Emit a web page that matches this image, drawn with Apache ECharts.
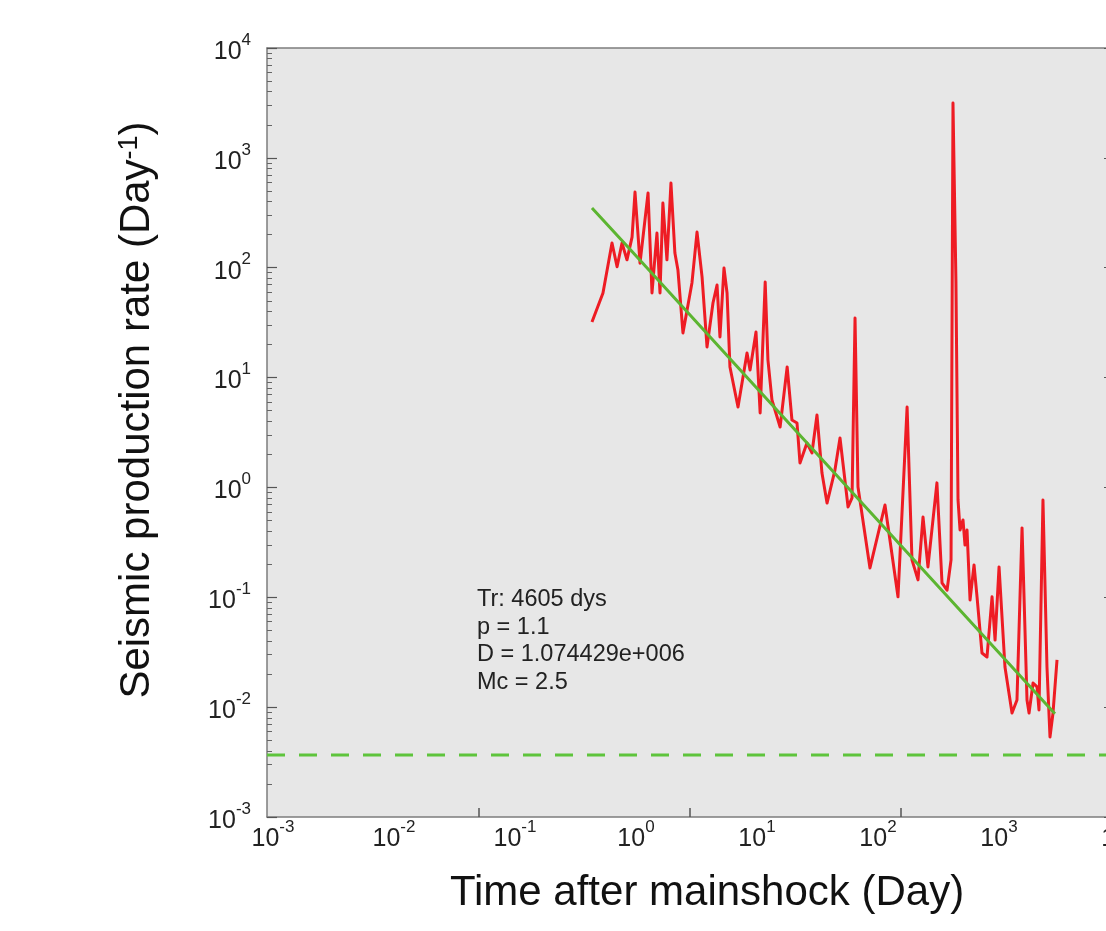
<!DOCTYPE html>
<html>
<head>
<meta charset="utf-8">
<script src="https://cdn.jsdelivr.net/npm/echarts@6/dist/echarts.min.js"></script>
<style>
html,body{margin:0;padding:0;background:#ffffff;}
#chart{width:1106px;height:931px;}
</style>
</head>
<body>
<div id="chart"></div>
<script>
// ---- data ----
var tRed = [0.485,0.598,0.710,0.782,0.859,0.944,1.04,1.10,1.21,1.41,1.52,1.67,1.77,1.87,2.02,2.18,2.35,2.49,2.74,3.25,
  3.58,3.94,4.33,4.85,5.24,5.54,5.98,6.34,6.70,7.81,9.27,9.82,11.0,11.9,13.1,13.8,14.9,17.4,19.9,21.8,
  24.0,25.4,29.0,31.9,35.1,38.6,42.5,49.4,54.4,63.4,68.4,72.4,76.6,96.2,128,164,195,214,240,264,
  290,344,379,417,450,467,494,514,534,565,587,610,646,697,738,811,892,982,1040,1122,
  1256,1436,1578,1738,1910,1986,2143,2312,2399,2588,2793,2958,3133,3381];
var rRed = [32.1,58.9,168,102,168,118,190,489,110,479,58.9,207,58.9,388,118,590,136,95.3,25.5,72.6,
  211,82.4,19.0,47.7,69.6,23.4,99.4,58.9,12.5,5.40,16.7,11.7,26.0,4.76,74.1,14.5,6.25,3.55,12.5,4.11,
  3.86,1.67,2.54,2.06,4.56,1.35,0.721,1.44,2.82,0.664,0.802,34.8,1.01,0.185,0.692,0.101,5.40,0.219,0.144,0.538,
  0.189,1.10,0.135,0.116,0.219,3160,74.1,0.769,0.410,0.506,0.299,0.410,0.0944,0.197,0.101,0.0311,0.0286,0.101,0.0408,0.189,
  0.0232,0.00885,0.0116,0.428,0.0116,0.00885,0.0166,0.0153,0.00942,0.769,0.0232,0.00535,0.00885,0.0269];
var tFit = [0.485,1,10,100,1000,3250];
var rFit = [350,147,9.16,0.573,0.0358,0.0087];
var tBg = [0.001,10000];
var rBg = [0.00367,0.00367];
var xLabelValues = [0.001,0.01,0.1,1,10,100,1000,10000];
var yLabelValues = [0.001,0.01,0.1,1,10,100,1000,10000];
var xTickValues = [0.0565,3.13,174];
var infoLines = ['Tr: 4605 dys','p = 1.1','D = 1.074429e+006','Mc = 2.5'];

var yMinorTicks = [];
for (var d = -3; d < 4; d++) {
  for (var m = 2; m <= 9; m++) yMinorTicks.push(m * Math.pow(10, d));
}

function pair(a, b) { return a.map(function (v, i) { return [v, b[i]]; }); }
function powLabel(v) {
  var e = Math.round(Math.log10(v));
  return '{b|10}{e|' + e + '}';
}
var FF = 'Liberation Sans, Arial, sans-serif';
var labelRich = {
  b: {fontSize: 25, lineHeight: 33, verticalAlign: 'bottom', color: '#222', fontFamily: FF},
  e: {fontSize: 17, lineHeight: 17, verticalAlign: 'top', color: '#222', fontFamily: FF}
};
var axisCol = '#7d7d7d';

var chart = echarts.init(document.getElementById('chart'), null, {renderer: 'canvas'});
chart.setOption({
  backgroundColor: '#ffffff',
  animation: false,
  grid: {left: 267, top: 48, right: -8, bottom: 114, containLabel: false, outerBoundsMode: 'none',
    show: true, backgroundColor: '#e7e7e7', borderWidth: 0},
  xAxis: [{
    type: 'log', logBase: 10, min: 0.001, max: 10000, position: 'bottom',
    axisLine: {show: true, lineStyle: {color: axisCol, width: 1.5}},
    axisTick: {show: true, inside: true, length: 9, customValues: xTickValues, lineStyle: {color: '#555', width: 1.5}},
    axisLabel: {show: true, margin: 2, padding: [0, 0, 0, 12], customValues: xLabelValues, formatter: powLabel, rich: labelRich, showMinLabel: true, showMaxLabel: true, hideOverlap: false},
    splitLine: {show: false}, minorTick: {show: false}
  }, {
    type: 'log', logBase: 10, min: 0.001, max: 10000, position: 'top',
    axisLine: {show: true, lineStyle: {color: axisCol, width: 1.5}},
    axisTick: {show: false}, axisLabel: {show: false}, splitLine: {show: false}
  }],
  yAxis: [{
    type: 'log', logBase: 10, min: 0.001, max: 10000, position: 'left',
    axisLine: {show: true, lineStyle: {color: axisCol, width: 1.5}},
    axisTick: {show: true, inside: true, length: 10, customValues: yLabelValues, lineStyle: {color: '#555', width: 1.2}},
    axisLabel: {show: true, margin: 16, customValues: yLabelValues, formatter: powLabel, rich: labelRich, showMinLabel: true, showMaxLabel: true},
    splitLine: {show: false}
  }, {
    type: 'log', logBase: 10, min: 0.001, max: 10000, position: 'left',
    axisLine: {show: false},
    axisTick: {show: true, inside: true, length: 5, customValues: yMinorTicks, lineStyle: {color: '#666', width: 1}},
    axisLabel: {show: false}, splitLine: {show: false}
  }, {
    type: 'log', logBase: 10, min: 0.001, max: 10000, position: 'right',
    axisLine: {show: true, lineStyle: {color: axisCol, width: 1.5}},
    axisTick: {show: true, inside: true, length: 10, customValues: yLabelValues, lineStyle: {color: '#555', width: 1.2}},
    axisLabel: {show: false}, splitLine: {show: false}
  }],
  series: [{
    name: 'background', type: 'line', data: pair(tBg, rBg), showSymbol: false, symbol: 'none',
    lineStyle: {color: '#5ec43c', width: 3, type: [18, 14]}, z: 2
  }, {
    name: 'observed', type: 'line', data: pair(tRed, rRed), showSymbol: false, symbol: 'none',
    lineStyle: {color: '#ee1c24', width: 3, join: 'round'}, z: 3
  }, {
    name: 'fit', type: 'line', data: pair(tFit, rFit), showSymbol: false, symbol: 'none',
    lineStyle: {color: '#5cb531', width: 3}, z: 4
  }],
  graphic: [{
    type: 'text', left: 477, top: 586,
    style: {text: infoLines.join('\n'), font: '23.5px "Liberation Sans", Arial, sans-serif', fill: '#222', lineHeight: 27.5}
  }, {
    type: 'text', x: 137, y: 410, rotation: Math.PI / 2,
    style: {
      text: 'Seismic production rate (Day{s|-1})', align: 'center', verticalAlign: 'middle',
      font: '42px "Liberation Sans", Arial, sans-serif', fill: '#111',
      rich: {s: {fontSize: 27, lineHeight: 27, verticalAlign: 'top', fill: '#111', fontFamily: FF}}
    }
  }, {
    type: 'text', x: 707, y: 893,
    style: {text: 'Time after mainshock (Day)', align: 'center', verticalAlign: 'middle', font: '42px "Liberation Sans", Arial, sans-serif', fill: '#111'}
  }]
});
</script>
</body>
</html>
